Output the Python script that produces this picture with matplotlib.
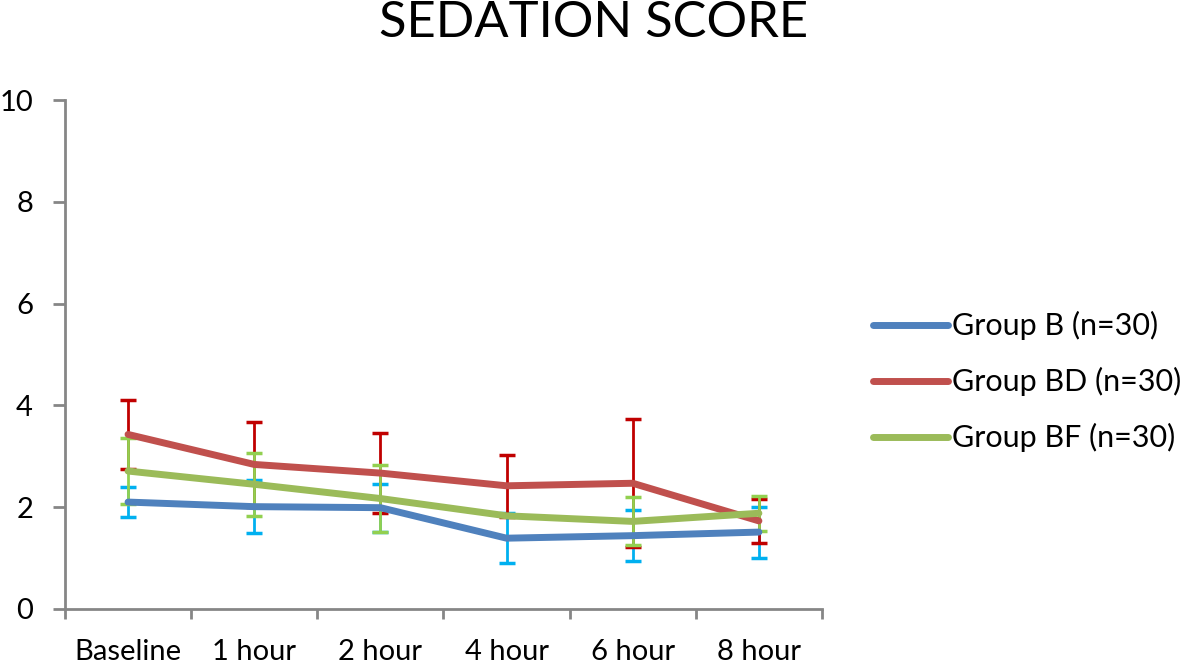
import matplotlib
matplotlib.use("Agg")
from matplotlib import pyplot as plt
import numpy as np

plt.rcParams['font.family'] = ['Lato', 'DejaVu Sans']

categories = ["Baseline", "1 hour", "2 hour", "4 hour", "6 hour", "8 hour"]

group_b = [2.10, 2.01, 1.99, 1.39, 1.44, 1.51]
group_b_sd = [0.30, 0.52, 0.47, 0.49, 0.50, 0.50]

group_bd = [3.43, 2.84, 2.67, 2.42, 2.47, 1.73]
group_bd_sd = [0.68, 0.83, 0.78, 0.61, 1.26, 0.44]

group_bf = [2.71, 2.45, 2.17, 1.83, 1.72, 1.88]
group_bf_sd = [0.65, 0.62, 0.65, 0.0, 0.47, 0.34]

fig = plt.figure(figsize=(11.81, 6.64), dpi=100)
ax = fig.add_axes([0.055, 0.083, 0.641, 0.766])

x = np.arange(len(categories))

series = [
    ("Group B (n=30)", group_b, group_b_sd, "#4F81BD", "#00B0F0"),
    ("Group BD (n=30)", group_bd, group_bd_sd, "#C0504D", "#C00000"),
    ("Group BF (n=30)", group_bf, group_bf_sd, "#9BBB59", "#92D050"),
]

# error bars first so the lines sit on top
for label, vals, sd, line_col, err_col in series:
    ax.errorbar(x, vals, yerr=sd, fmt="none", ecolor=err_col, elinewidth=2,
                capsize=6, capthick=2.5, zorder=2)
for label, vals, sd, line_col, err_col in series:
    ax.plot(x, vals, color=line_col, lw=5, label=label, zorder=3,
            solid_capstyle="round")

ax.set_xlim(-0.5, len(categories) - 0.5)
ax.set_ylim(0, 10)
ax.set_yticks([0, 2, 4, 6, 8, 10])
ax.set_xticks(x)
ax.set_xticklabels(categories)
ax.set_xticks(np.arange(-0.5, len(categories), 1), minor=True)
ax.tick_params(axis="x", which="major", length=0, pad=22, labelsize=21)
ax.tick_params(axis="x", which="minor", length=7, width=2, color="#868686")
ax.tick_params(axis="y", length=9, width=2, color="#868686", labelsize=21, pad=14)

for side in ["top", "right"]:
    ax.spines[side].set_visible(False)
for side in ["left", "bottom"]:
    ax.spines[side].set_color("#868686")
    ax.spines[side].set_linewidth(2)

fig.text(0.503, 0.965, "SEDATION SCORE", ha="center", va="center", fontsize=36.5)

fig.legend(loc="center left", bbox_to_anchor=(0.7395, 0.425), frameon=False,
           fontsize=22, handlelength=2.45, handletextpad=0.12, labelspacing=0.88,
           borderpad=0, borderaxespad=0)

fig.savefig("out.png", dpi=100)
